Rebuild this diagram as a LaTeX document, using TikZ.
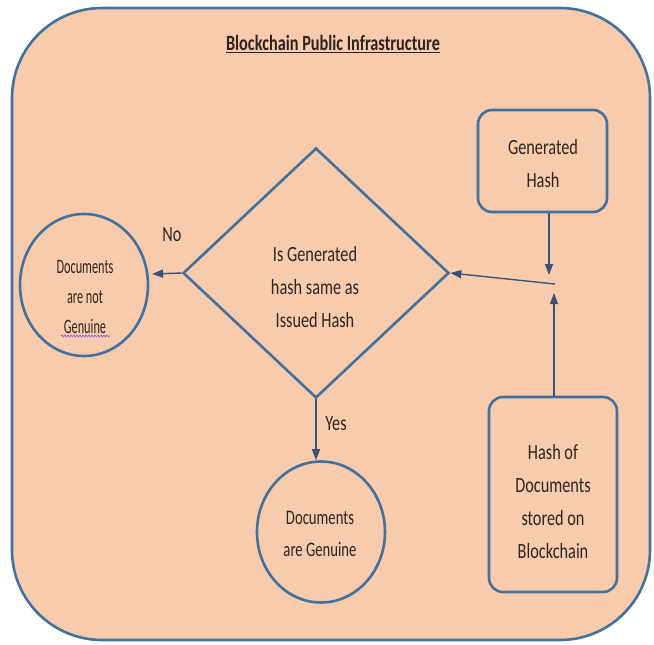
\documentclass[tikz,border=0pt]{standalone}
\usepackage{fontspec}
\setmainfont[FakeStretch=0.75]{Carlito}
\newfontfamily\narrowcal[FakeStretch=0.6]{Carlito}
\newfontfamily\midcal[FakeStretch=0.71]{Carlito}
\usetikzlibrary{shapes.geometric,arrows.meta,decorations.pathmorphing}
\definecolor{peach}{HTML}{F8CBAD}
\definecolor{edgeblue}{HTML}{41719C}
\definecolor{txt}{HTML}{2E241E}
\definecolor{conncol}{HTML}{3A5273}
\definecolor{squig}{HTML}{9B5FD6}
\begin{document}
\begin{tikzpicture}[x=1pt,y=-1pt,
  shapeline/.style={draw=edgeblue,line width=2.6pt},
  txtnode/.style={text=txt,align=center,inner sep=0pt},
  bigfont/.style={font=\fontsize{21.7}{33}\selectfont},
  midfont/.style={font=\midcal\fontsize{20.7}{32}\selectfont},
  smallfont/.style={font=\narrowcal\fontsize{20.5}{30}\selectfont},
  connector/.style={draw=conncol,line width=1.4pt,-{Triangle[length=11pt,width=8pt]}},
  boxstyle/.style={shapeline,fill=peach,rounded corners=14pt,inner sep=0pt},
  ellstyle/.style={shapeline,fill=peach,ellipse,inner sep=0pt}
]
\useasboundingbox (0,0) rectangle (654,645);
\fill[white] (0,0) rectangle (654,645);
% outer frame
\node[shapeline,fill=peach,rounded corners=90pt,minimum width=638pt,minimum height=632pt,inner sep=0pt] (frame) at (331,324) {};
% title
\node[txtnode,bigfont] (title) at (333,44) {\underline{\textbf{Blockchain Public Infrastructure}}};
% diamond
\node[shapeline,diamond,minimum width=266pt,minimum height=250pt,inner sep=0pt] (dec) at (316,273) {};
\node[txtnode,bigfont] (dectext) at (315,287) {Is Generated\\hash same as\\Issued Hash};
% left ellipse
\node[ellstyle,minimum width=128pt,minimum height=142pt] (notg) at (84,285) {};
\node[txtnode,smallfont] (notgtext) at (85,297) {Documents\\are not\\Genuine};
\draw[squig,line width=0.8pt,decorate,decoration={snake,amplitude=0.9pt,segment length=3pt}] (61,336) -- (110,336);
% bottom ellipse
\node[ellstyle,minimum width=128pt,minimum height=141pt] (gen) at (321,532) {};
\node[txtnode,midfont] (gentext) at (320,534) {Documents\\are Genuine};
% generated hash box
\node[boxstyle,minimum width=129pt,minimum height=102pt] (ghash) at (542.5,161) {};
\node[txtnode,bigfont] (ghashtext) at (543,164) {Generated\\Hash};
% hash of documents box
\node[boxstyle,minimum width=128pt,minimum height=195pt] (dhash) at (553,494.5) {};
\node[txtnode,bigfont] (dhashtext) at (553,502) {Hash of\\Documents\\stored on\\Blockchain};
% junction coordinates
\coordinate (j1) at (549,275);
\coordinate (j2) at (554,293);
\coordinate (j3) at (555,284);
\coordinate (notgin) at (152,274);
% connectors
\draw[connector] (ghash.south -| j1) -- (j1);
\draw[connector] (dhash.north -| j2) -- (j2);
\draw[connector] (j3) -- (dec.east);
\draw[connector] (dec.west) -- (notgin);
\draw[connector] (dec.south) -- (dec.south |- gen.north);
% labels
\node[txtnode,bigfont] (nolbl) at (172,235) {No};
\node[txtnode,bigfont] (yeslbl) at (336,424) {Yes};
\end{tikzpicture}
\end{document}
